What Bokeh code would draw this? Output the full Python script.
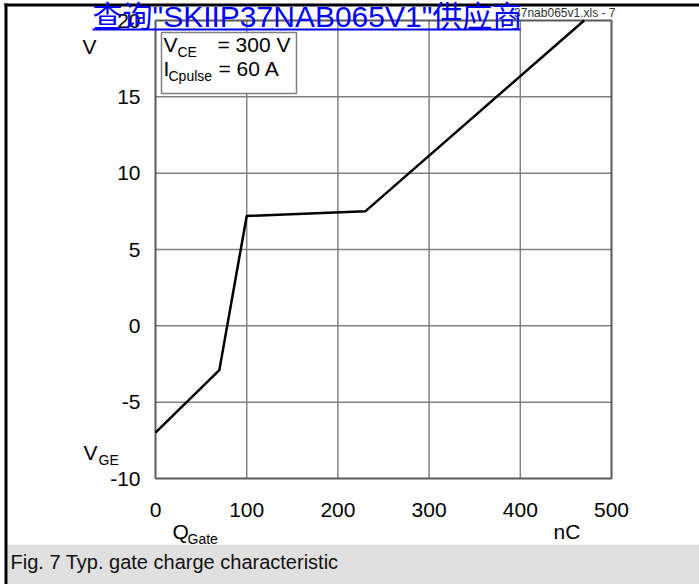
from bokeh.plotting import figure
from bokeh.models import Range1d, Label, BoxAnnotation
from bokeh.core.properties import value
from bokeh.embed import file_html
from bokeh.resources import INLINE

# ---- data ----
q_gate = [0, 70, 100, 230, 470]          # nC
v_ge = [-7.0, -2.9, 7.2, 7.5, 20.0]      # V
x_ticks = [0, 100, 200, 300, 400, 500]
x_tick_labels = ["0", "100", "200", "300", "400", "500"]
y_ticks = [-10, -5, 0, 5, 10, 15, 20]
y_tick_labels = ["-10", "-5", "0", "5", "10", "15", "20"]
title_text = '查询"SKIIP37NAB065V1"供应商'
file_text = "37nab065v1.xls - 7"
caption_text = "Fig. 7 Typ. gate charge characteristic"

X_MIN, X_MAX = 0, 500
Y_MIN, Y_MAX = -10, 20

W, H = 699, 584
FL, FR, FT, FB = 155, 611, 20, 478   # plot area in page pixels

FONT = "Liberation Sans"
MID = 0.3465   # distance baseline -> text middle, in em

def px2x(px):
    return X_MIN + (px - FL) * (X_MAX - X_MIN) / (FR - FL)

def py2y(py):
    return Y_MAX - (py - FT) * (Y_MAX - Y_MIN) / (FB - FT)

DX = (X_MAX - X_MIN) / (FR - FL)   # data units per pixel
DY = (Y_MAX - Y_MIN) / (FB - FT)

p = figure(width=W, height=H,
           x_range=Range1d(px2x(0), px2x(W)), y_range=Range1d(py2y(H), py2y(0)),
           x_axis_type=None, y_axis_type=None,
           output_backend="svg", toolbar_location=None,
           min_border_left=0, min_border_right=0, min_border_top=0, min_border_bottom=0)
p.background_fill_color = "white"
p.border_fill_color = "white"
p.outline_line_color = None

def box(l, r, t, b, fill, line=None, lw=1):
    p.add_layout(BoxAnnotation(left=px2x(l), right=px2x(r), top=py2y(t), bottom=py2y(b),
                               fill_color=fill, fill_alpha=1.0 if fill else 0,
                               line_color=line, line_width=lw, line_alpha=1.0 if line else 0))

def lab(px, py, text, size, color="black", align="left", font=FONT):
    # py is the baseline position in page pixels
    p.add_layout(Label(x=px2x(px), y=py2y(py - MID * size), text=text, text_font=font,
                       text_font_size=f"{size}px", text_color=color,
                       text_align=align, text_baseline="middle"))

# page decorations
box(7, W, 544, H, "#e0e0e0")
box(4, W, 3, 6, "black")
box(4, 7, 3, H, "black")

# grid
p.segment(x0=x_ticks, y0=[Y_MIN] * len(x_ticks), x1=x_ticks, y1=[Y_MAX] * len(x_ticks),
          line_color="#808080", line_width=1.5)
p.segment(x0=[X_MIN] * len(y_ticks), y0=y_ticks, x1=[X_MAX] * len(y_ticks), y1=y_ticks,
          line_color="#808080", line_width=1.5)

# tick labels
TS = 21
p.text(x=x_ticks, y=[Y_MIN - (39 - MID * TS) * DY] * len(x_ticks), text=x_tick_labels,
       text_font=value(FONT), text_font_size=value(f"{TS}px"), text_color="black",
       text_align="center", text_baseline="middle")
p.text(x=[X_MIN - 15 * DX] * len(y_ticks), y=[t - (7.5 - MID * TS) * DY for t in y_ticks],
       text=y_tick_labels,
       text_font=value(FONT), text_font_size=value(f"{TS}px"), text_color="black",
       text_align="right", text_baseline="middle")

# curve
p.line(q_gate, v_ge, line_color="black", line_width=2.5)

# plot area outline
p.add_layout(BoxAnnotation(left=X_MIN, right=X_MAX, top=Y_MAX, bottom=Y_MIN,
                           fill_alpha=0, line_color="black", line_width=2.5))

# legend box
box(161, 296, 32, 93, "white", "#808080", 1.5)
lab(163, 51, "V", 21)
lab(177, 56, "CE", 14)
lab(217, 51, "= 300 V", 21)
lab(163, 75, "I", 21)
lab(168, 80, "Cpulse", 14)
lab(218, 75, "= 60 A", 21)

# axis labels
lab(82, 53, "V", 21)
lab(83, 459, "V", 21)
lab(98, 464, "GE", 14)
lab(172, 538, "Q", 21)
lab(187, 543, "Gate", 14)
lab(553, 538, "nC", 21)

# file name and header link
lab(615, 17, file_text, 12, color="#333333", align="right")
lab(92, 26, title_text, 30, color="#0000ff", font=FONT + ", Noto Sans CJK SC")
box(92, 520, 28, 30, "#0000ff")

# caption
lab(10, 568, caption_text, 20, color="#111111")

open("out.html", "w").write(file_html(p, INLINE))
